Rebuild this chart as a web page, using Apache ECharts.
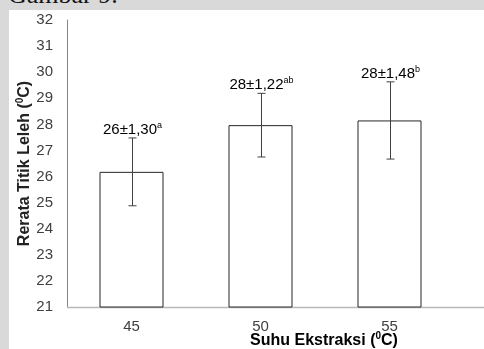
<!DOCTYPE html>
<html>
<head>
<meta charset="utf-8">
<script src="https://cdn.jsdelivr.net/npm/echarts@6/dist/echarts.min.js"></script>
<style>
  html, body { margin: 0; padding: 0; }
  body { width: 484px; height: 349px; overflow: hidden; background: #d9d9d9; position: relative; }
  #caption { position: absolute; left: 8px; top: -21px; font-family: "Liberation Serif", serif; font-size: 26px; color: #111; white-space: nowrap; line-height: 32px; }
  #sheet { position: absolute; left: 9px; top: 10px; width: 475px; height: 339px; background: #fff; }
  #chart { width: 475px; height: 339px; }
</style>
</head>
<body>
<div id="caption">Gambar 9.</div>
<div id="sheet"><div id="chart"></div></div>
<script>
// Extraction temperature groups (°C)
const categories = ['45', '50', '55'];
// Mean melting point (°C) and standard deviation
const meanValues = [26.18, 27.97, 28.15];
const sdValues = [1.30, 1.22, 1.48];
// Significance letters
const notations = ['a', 'ab', 'b'];
// Y axis range
const yMin = 21, yMax = 32, yStep = 1;

const textColor = '#404040';
const font = '"Liberation Sans", Arial, sans-serif';
const gridLeft = 58;

const chart = echarts.init(document.getElementById('chart'), null, { renderer: 'canvas' });

const fmtSd = v => v.toFixed(2).replace('.', ',');

const titleRich = {
  b: { fontSize: 16, fontWeight: 'bold', color: '#222', fontFamily: font, lineHeight: 19 },
  s: { fontSize: 10, fontWeight: 'bold', color: '#222', fontFamily: font, lineHeight: 19, verticalAlign: 'top' }
};

const option = {
  animation: false,
  textStyle: { fontFamily: font },
  grid: { left: gridLeft, right: 30, top: 10, bottom: 42, containLabel: false, outerBoundsMode: 'none' },
  xAxis: {
    type: 'category',
    data: categories,
    axisLine: { show: false },
    axisTick: { show: false },
    axisLabel: { color: textColor, fontSize: 15, margin: 12, fontFamily: font }
  },
  yAxis: {
    type: 'value',
    min: yMin, max: yMax, interval: yStep,
    axisLine: { show: true, lineStyle: { color: '#868686', width: 1 } },
    axisTick: { show: false },
    splitLine: { show: false },
    axisLabel: { color: textColor, fontSize: 15, margin: 14, fontFamily: font },
    name: '{b|Rerata Titik Leleh (}{s|0}{b|C)}',
    nameLocation: 'middle',
    nameGap: 33,
    nameMoveOverlap: false,
    nameTextStyle: { rich: titleRich }
  },
  series: [
    {
      type: 'bar',
      data: meanValues,
      barWidth: 64,
      itemStyle: { color: '#ffffff', borderColor: '#262626', borderWidth: 1 },
      z: 2
    },
    {
      // error bars with the mean ± SD label above each
      type: 'custom',
      z: 3,
      data: meanValues.map((m, i) => [i, m, sdValues[i]]),
      renderItem: function (params, api) {
        const i = api.value(0);
        const m = api.value(1);
        const sd = api.value(2);
        const hi = api.coord([i, m + sd]);
        const lo = api.coord([i, m - sd]);
        const cap = 4;
        const x = Math.round(hi[0]) + 0.5;
        const lineStyle = { stroke: '#404040', lineWidth: 1 };
        return {
          type: 'group',
          children: [
            { type: 'line', shape: { x1: x, y1: hi[1], x2: x, y2: lo[1] }, style: lineStyle },
            { type: 'line', shape: { x1: x - cap, y1: hi[1], x2: x + cap, y2: hi[1] }, style: lineStyle },
            { type: 'line', shape: { x1: x - cap, y1: lo[1], x2: x + cap, y2: lo[1] }, style: lineStyle },
            {
              type: 'text',
              x: x,
              y: hi[1] + 1,
              style: {
                text: '{m|' + Math.round(m) + '±' + fmtSd(sd) + '}{s|' + notations[params.dataIndex] + '}',
                align: 'center',
                verticalAlign: 'bottom',
                rich: {
                  m: { fontSize: 15, color: '#262626', fontFamily: font, lineHeight: 18 },
                  s: { fontSize: 9, color: '#262626', fontFamily: font, lineHeight: 18, verticalAlign: 'top' }
                }
              }
            }
          ]
        };
      }
    }
  ]
};

chart.setOption(option);

// horizontal baseline running from the value axis to the right edge, plus the x axis title
const base = chart.convertToPixel({ gridIndex: 0 }, [0, yMin]);
chart.setOption({
  graphic: [
    {
      type: 'line',
      shape: { x1: gridLeft, y1: Math.round(base[1]) + 0.5, x2: 475, y2: Math.round(base[1]) + 0.5 },
      style: { stroke: '#b8b8b8', lineWidth: 1.5 },
      z: 1
    },
    {
      type: 'text',
      x: 315,
      y: 331,
      style: {
        text: '{b|Suhu Ekstraksi (}{s|0}{b|C)}',
        align: 'center',
        verticalAlign: 'middle',
        rich: titleRich
      }
    }
  ]
});
</script>
</body>
</html>
